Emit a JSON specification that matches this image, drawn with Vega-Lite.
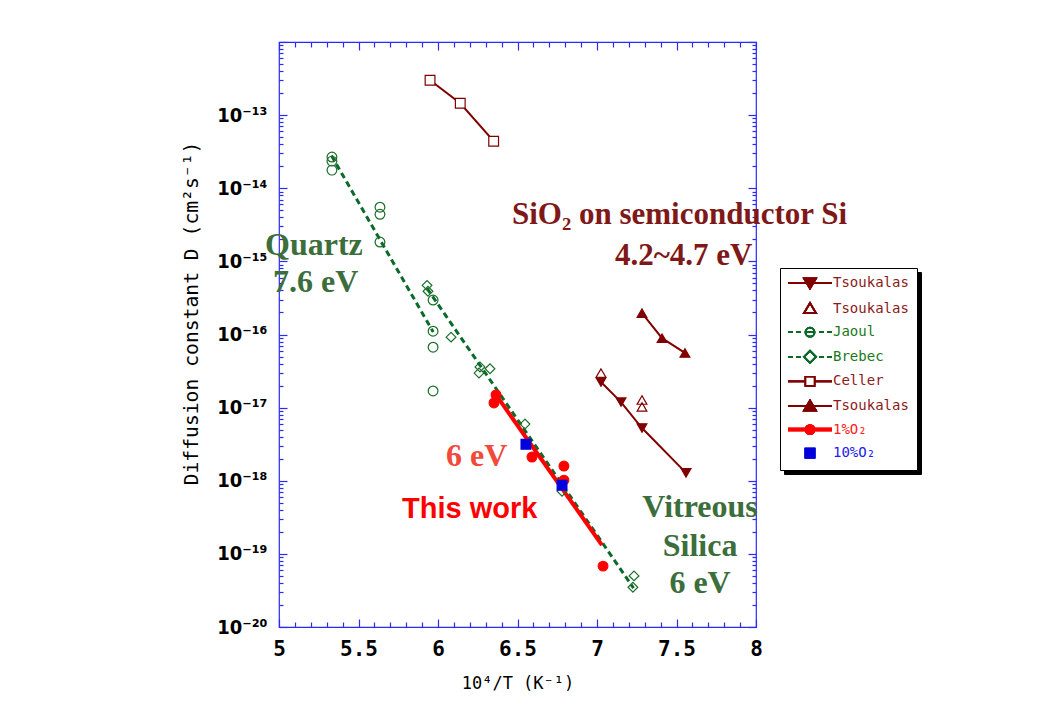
{
  "$schema": "https://vega.github.io/schema/vega-lite/v6.json",
  "width": 477,
  "height": 585,
  "autosize": "none",
  "padding": {"left": 279, "top": 42, "right": 286, "bottom": 92},
  "background": "white",
  "config": {
    "view": {"stroke": "#2a2aff", "strokeWidth": 1.2},
    "axis": {"grid": false, "domain": false, "tickColor": "#2a2aff", "tickWidth": 1.2, "labelOverlap": false, "labelBound": false, "labelFlush": false}
  },
  "datasets": {
    "lines": [
      {"s": "Celler", "x": 5.95, "D": 3.0e-13},
      {"s": "Celler", "x": 6.14, "D": 1.45e-13},
      {"s": "Celler", "x": 6.35, "D": 4.4e-14},
      {"s": "Tsoukalas1", "x": 7.025, "D": 2.24e-17},
      {"s": "Tsoukalas1", "x": 7.151, "D": 1.19e-17},
      {"s": "Tsoukalas1", "x": 7.283, "D": 5.26e-18},
      {"s": "Tsoukalas1", "x": 7.56, "D": 1.28e-18},
      {"s": "Tsoukalas3", "x": 7.283, "D": 1.96e-16},
      {"s": "Tsoukalas3", "x": 7.409, "D": 8.9e-17},
      {"s": "Tsoukalas3", "x": 7.553, "D": 5.6e-17},
      {"s": "Jaoul", "x": 5.33, "D": 2.8e-14},
      {"s": "Jaoul", "x": 5.97, "D": 1.08e-16},
      {"s": "Brebec", "x": 5.93, "D": 4.3e-16},
      {"s": "Brebec", "x": 7.23, "D": 3.4e-20},
      {"s": "1%O₂", "x": 6.365, "D": 1.49e-17},
      {"s": "1%O₂", "x": 7.031, "D": 1.32e-19}
    ],
    "points": [
      {"s": "Celler", "x": 5.95, "D": 3.0e-13},
      {"s": "Celler", "x": 6.14, "D": 1.45e-13},
      {"s": "Celler", "x": 6.35, "D": 4.4e-14},
      {"s": "Jaoul", "x": 5.333, "D": 2.67e-14},
      {"s": "Jaoul", "x": 5.333, "D": 2.35e-14},
      {"s": "Jaoul", "x": 5.333, "D": 1.77e-14},
      {"s": "Jaoul", "x": 5.635, "D": 5.5e-15},
      {"s": "Jaoul", "x": 5.635, "D": 4.4e-15},
      {"s": "Jaoul", "x": 5.635, "D": 1.84e-15},
      {"s": "Jaoul", "x": 5.969, "D": 2.96e-16},
      {"s": "Jaoul", "x": 5.969, "D": 1.11e-16},
      {"s": "Jaoul", "x": 5.969, "D": 6.7e-17},
      {"s": "Jaoul", "x": 5.969, "D": 1.69e-17},
      {"s": "Brebec", "x": 5.931, "D": 4.7e-16},
      {"s": "Brebec", "x": 5.937, "D": 3.9e-16},
      {"s": "Brebec", "x": 6.082, "D": 9.2e-17},
      {"s": "Brebec", "x": 6.264, "D": 3.6e-17},
      {"s": "Brebec", "x": 6.258, "D": 2.97e-17},
      {"s": "Brebec", "x": 6.327, "D": 3.4e-17},
      {"s": "Brebec", "x": 6.547, "D": 5.96e-18},
      {"s": "Brebec", "x": 6.78, "D": 7.2e-19},
      {"s": "Brebec", "x": 7.233, "D": 5.0e-20},
      {"s": "Brebec", "x": 7.226, "D": 3.5e-20},
      {"s": "Tsoukalas1", "x": 7.025, "D": 2.24e-17},
      {"s": "Tsoukalas1", "x": 7.151, "D": 1.19e-17},
      {"s": "Tsoukalas1", "x": 7.283, "D": 5.26e-18},
      {"s": "Tsoukalas1", "x": 7.56, "D": 1.28e-18},
      {"s": "Tsoukalas2", "x": 7.025, "D": 2.97e-17},
      {"s": "Tsoukalas2", "x": 7.283, "D": 1.27e-17},
      {"s": "Tsoukalas2", "x": 7.283, "D": 1.02e-17},
      {"s": "Tsoukalas3", "x": 7.283, "D": 1.96e-16},
      {"s": "Tsoukalas3", "x": 7.409, "D": 8.9e-17},
      {"s": "Tsoukalas3", "x": 7.553, "D": 5.6e-17},
      {"s": "1%O₂", "x": 6.365, "D": 1.49e-17},
      {"s": "1%O₂", "x": 6.352, "D": 1.16e-17},
      {"s": "1%O₂", "x": 6.591, "D": 2.11e-18},
      {"s": "1%O₂", "x": 6.792, "D": 1.59e-18},
      {"s": "1%O₂", "x": 6.792, "D": 1.02e-18},
      {"s": "1%O₂", "x": 7.038, "D": 6.8e-20},
      {"s": "10%O₂", "x": 6.553, "D": 3.15e-18},
      {"s": "10%O₂", "x": 6.78, "D": 8.7e-19}
    ]
  },
  "layer": [
    {
      "data": {"name": "lines"},
      "transform": [{"filter": {"field": "s", "oneOf": ["Jaoul", "Brebec"]}}],
      "mark": {"type": "line", "color": "#0a6a2a", "strokeWidth": 3, "strokeDash": [6, 4]},
      "encoding": {
        "x": {"field": "x", "type": "quantitative", "scale": {"domain": [5, 8], "nice": false, "zero": false},
          "axis": {
            "orient": "bottom",
            "values": [5, 5.5, 6, 6.5, 7, 7.5, 8],
            "format": "~g",
            "tickSize": -8, "labelPadding": 19,
            "labelFont": "DejaVu Sans Mono", "labelFontWeight": "bold", "labelFontSize": 21, "labelColor": "black",
            "title": "10⁴/T  (K⁻¹)", "titleFont": "DejaVu Sans Mono", "titleFontWeight": "normal", "titleFontSize": 17, "titleColor": "black", "titlePadding": 16
          }},
        "y": {"field": "D", "type": "quantitative", "scale": {"type": "log", "domain": [1e-20, 1e-12], "nice": false},
          "axis": {
            "orient": "left",
            "values": [1e-20, 1e-19, 1e-18, 1e-17, 1e-16, 1e-15, 1e-14, 1e-13, 1e-12],
            "labelExpr": "datum.value < 5e-13 ? ['10⁻²⁰','10⁻¹⁹','10⁻¹⁸','10⁻¹⁷','10⁻¹⁶','10⁻¹⁵','10⁻¹⁴','10⁻¹³'][round(log(datum.value)/LN10)+20] : ''",
            "tickSize": -8, "labelPadding": 20,
            "labelFont": "DejaVu Sans Condensed", "labelFontWeight": "bold", "labelFontSize": 20, "labelColor": "black",
            "title": "Diffusion constant D (cm²s⁻¹)", "titleFont": "DejaVu Sans Mono", "titleFontWeight": "normal", "titleFontSize": 19.7, "titleColor": "black",
            "titleX": -88, "titleY": 271, "titleBaseline": "middle", "titleAngle": 270, "titleAlign": "center"
          }},
        "detail": {"field": "s"}
      }
    },
    {
      "data": {"name": "lines"},
      "transform": [{"filter": {"field": "s", "oneOf": ["Celler", "Tsoukalas1", "Tsoukalas3"]}}],
      "mark": {"type": "line", "color": "#800000", "strokeWidth": 2},
      "encoding": {
        "x": {"field": "x", "type": "quantitative", "scale": {"domain": [5, 8], "nice": false, "zero": false},
          "axis": {
            "orient": "bottom",
            "values": [5.1,5.2,5.3,5.4,5.6,5.7,5.8,5.9,6.1,6.2,6.3,6.4,6.6,6.7,6.8,6.9,7.1,7.2,7.3,7.4,7.6,7.7,7.8,7.9],
            "labels": false, "title": null, "tickSize": -5
          }},
        "y": {"field": "D", "type": "quantitative", "scale": {"type": "log", "domain": [1e-20, 1e-12], "nice": false},
          "axis": {
            "orient": "left",
            "values": [2e-20,3e-20,4e-20,5e-20,6e-20,7e-20,8e-20,9e-20,2e-19,3e-19,4e-19,5e-19,6e-19,7e-19,8e-19,9e-19,2e-18,3e-18,4e-18,5e-18,6e-18,7e-18,8e-18,9e-18,2e-17,3e-17,4e-17,5e-17,6e-17,7e-17,8e-17,9e-17,2e-16,3e-16,4e-16,5e-16,6e-16,7e-16,8e-16,9e-16,2e-15,3e-15,4e-15,5e-15,6e-15,7e-15,8e-15,9e-15,2e-14,3e-14,4e-14,5e-14,6e-14,7e-14,8e-14,9e-14,2e-13,3e-13,4e-13,5e-13,6e-13,7e-13,8e-13,9e-13],
            "labels": false, "title": null, "tickSize": -4
          }},
        "detail": {"field": "s"}
      }
    },
    {
      "data": {"name": "lines"},
      "transform": [{"filter": {"field": "s", "equal": "1%O₂"}}],
      "mark": {"type": "line", "color": "#ff0000", "strokeWidth": 4},
      "encoding": {
        "x": {"field": "x", "type": "quantitative", "scale": {"domain": [5, 8], "nice": false, "zero": false},
          "axis": {"orient": "top", "values": [5, 5.5, 6, 6.5, 7, 7.5, 8], "labels": false, "title": null, "tickSize": -8}},
        "y": {"field": "D", "type": "quantitative", "scale": {"type": "log", "domain": [1e-20, 1e-12], "nice": false},
          "axis": {"orient": "right", "values": [1e-20, 1e-19, 1e-18, 1e-17, 1e-16, 1e-15, 1e-14, 1e-13, 1e-12], "labels": false, "title": null, "tickSize": -8}}
      }
    },
    {
      "data": {"name": "points"},
      "mark": {"type": "point", "size": 95, "strokeWidth": 1.2, "opacity": 1},
      "encoding": {
        "x": {"field": "x", "type": "quantitative", "scale": {"domain": [5, 8], "nice": false, "zero": false},
          "axis": {
            "orient": "top",
            "values": [5.1,5.2,5.3,5.4,5.6,5.7,5.8,5.9,6.1,6.2,6.3,6.4,6.6,6.7,6.8,6.9,7.1,7.2,7.3,7.4,7.6,7.7,7.8,7.9],
            "labels": false, "title": null, "tickSize": -5
          }},
        "y": {"field": "D", "type": "quantitative", "scale": {"type": "log", "domain": [1e-20, 1e-12], "nice": false},
          "axis": {
            "orient": "right",
            "values": [2e-20,3e-20,4e-20,5e-20,6e-20,7e-20,8e-20,9e-20,2e-19,3e-19,4e-19,5e-19,6e-19,7e-19,8e-19,9e-19,2e-18,3e-18,4e-18,5e-18,6e-18,7e-18,8e-18,9e-18,2e-17,3e-17,4e-17,5e-17,6e-17,7e-17,8e-17,9e-17,2e-16,3e-16,4e-16,5e-16,6e-16,7e-16,8e-16,9e-16,2e-15,3e-15,4e-15,5e-15,6e-15,7e-15,8e-15,9e-15,2e-14,3e-14,4e-14,5e-14,6e-14,7e-14,8e-14,9e-14,2e-13,3e-13,4e-13,5e-13,6e-13,7e-13,8e-13,9e-13],
            "labels": false, "title": null, "tickSize": -4
          }},
        "shape": {"field": "s", "type": "nominal",
          "scale": {"domain": ["Tsoukalas1","Tsoukalas2","Jaoul","Brebec","Celler","Tsoukalas3","1%O₂","10%O₂"],
                    "range": ["triangle-down","triangle-up","circle","diamond","square","triangle-up","circle","square"]},
          "legend": null},
        "stroke": {"field": "s", "type": "nominal",
          "scale": {"domain": ["Tsoukalas1","Tsoukalas2","Jaoul","Brebec","Celler","Tsoukalas3","1%O₂","10%O₂"],
                    "range": ["#800000","#800000","#1a6e2a","#1a6e2a","#800000","#800000","#ff0000","#0000dd"]},
          "legend": null},
        "fill": {"field": "s", "type": "nominal",
          "scale": {"domain": ["Tsoukalas1","Tsoukalas2","Jaoul","Brebec","Celler","Tsoukalas3","1%O₂","10%O₂"],
                    "range": ["#800000","transparent","transparent","transparent","white","#800000","#ff0000","#0000dd"]},
          "legend": null}
      }
    },
    {
      "data": {"name": "points"},
      "transform": [{"filter": "false"}],
      "mark": {"type": "point", "opacity": 1, "strokeWidth": 1.8},
      "encoding": {
        "x": {"field": "x", "type": "quantitative", "scale": {"domain": [5, 8], "nice": false, "zero": false}, "axis": null},
        "y": {"field": "D", "type": "quantitative", "scale": {"type": "log", "domain": [1e-20, 1e-12], "nice": false}, "axis": null},
        "shape": {"field": "s", "type": "nominal",
          "scale": {"domain": ["Tsoukalas1","Tsoukalas2","Jaoul","Brebec","Celler","Tsoukalas3","1%O₂","10%O₂"],
                    "range": ["M-4.4,0H4.4M-1.2,-0.9H1.2L0,1.1Z","M-1.2,0.9H1.2L0,-1.1Z","M-4.4,0H-3.4M-2.8,0H-1.8M-0.9,0H0.9M1.8,0H2.8M3.4,0H4.4M-0.9,0C-0.9,-0.5 -0.5,-0.9 0,-0.9C0.5,-0.9 0.9,-0.5 0.9,0C0.9,0.5 0.5,0.9 0,0.9C-0.5,0.9 -0.9,0.5 -0.9,0Z","M-4.4,0H-3.4M-2.8,0H-1.8M1.8,0H2.8M3.4,0H4.4M-1.2,0L0,-1.2L1.2,0L0,1.2Z","M-4.4,0H-0.9M0.9,0H4.4M-0.9,-0.9H0.9V0.9H-0.9Z","M-4.4,0H4.4M-1.2,0.9H1.2L0,-1.1Z","M-4.4,-0.17H4.4M-4.4,0.17H4.4M-0.9,0C-0.9,-0.5 -0.5,-0.9 0,-0.9C0.5,-0.9 0.9,-0.5 0.9,0C0.9,0.5 0.5,0.9 0,0.9C-0.5,0.9 -0.9,0.5 -0.9,0Z","M-0.9,-0.9H0.9V0.9H-0.9Z"]},
          "legend": {"orient": "none", "legendX": 505, "legendY": 230, "title": null, "strokeColor": "black", "fillColor": "black", "padding": 8, "symbolSize": 100, "symbolOffset": 15, "symbolStrokeWidth": 1.8, "labelOffset": 16, "rowPadding": 5.6, "labelFont": "DejaVu Sans Mono", "labelFontSize": 14, "labelLimit": 200, "labelColor": "black", "labelExpr": "indexof(datum.label,'Tsoukalas')==0 ? 'Tsoukalas' : datum.label"}},
        "stroke": {"field": "s", "type": "nominal",
          "scale": {"domain": ["Tsoukalas1","Tsoukalas2","Jaoul","Brebec","Celler","Tsoukalas3","1%O₂","10%O₂"],
                    "range": ["#800000","#800000","#0a6a2a","#0a6a2a","#800000","#800000","#ff0000","#0000dd"]},
          "legend": {"orient": "none", "legendX": 505, "legendY": 230, "title": null, "strokeColor": "black", "fillColor": "black", "padding": 8, "symbolSize": 100, "symbolOffset": 15, "symbolStrokeWidth": 1.8, "labelOffset": 16, "rowPadding": 5.6, "labelFont": "DejaVu Sans Mono", "labelFontSize": 14, "labelLimit": 200, "labelColor": "black", "labelExpr": "indexof(datum.label,'Tsoukalas')==0 ? 'Tsoukalas' : datum.label"}},
        "fill": {"field": "s", "type": "nominal",
          "scale": {"domain": ["Tsoukalas1","Tsoukalas2","Jaoul","Brebec","Celler","Tsoukalas3","1%O₂","10%O₂"],
                    "range": ["#800000","transparent","transparent","transparent","white","#800000","#ff0000","#0000dd"]},
          "legend": {"orient": "none", "legendX": 505, "legendY": 230, "title": null, "strokeColor": "black", "fillColor": "black", "padding": 8, "symbolSize": 100, "symbolOffset": 15, "symbolStrokeWidth": 1.8, "labelOffset": 16, "rowPadding": 5.6, "labelFont": "DejaVu Sans Mono", "labelFontSize": 14, "labelLimit": 200, "labelColor": "black", "labelExpr": "indexof(datum.label,'Tsoukalas')==0 ? 'Tsoukalas' : datum.label"}}
      }
    },
    {
      "data": {"name": "points"},
      "transform": [{"filter": "false"}],
      "mark": {"type": "point", "opacity": 1, "strokeWidth": 1.8},
      "encoding": {
        "x": {"field": "x", "type": "quantitative", "scale": {"domain": [5, 8], "nice": false, "zero": false}, "axis": null},
        "y": {"field": "D", "type": "quantitative", "scale": {"type": "log", "domain": [1e-20, 1e-12], "nice": false}, "axis": null},
        "shape": {"field": "s", "type": "nominal",
          "scale": {"domain": ["Tsoukalas1","Tsoukalas2","Jaoul","Brebec","Celler","Tsoukalas3","1%O₂","10%O₂"],
                    "range": ["M-4.4,0H4.4M-1.2,-0.9H1.2L0,1.1Z","M-1.2,0.9H1.2L0,-1.1Z","M-4.4,0H-3.4M-2.8,0H-1.8M-0.9,0H0.9M1.8,0H2.8M3.4,0H4.4M-0.9,0C-0.9,-0.5 -0.5,-0.9 0,-0.9C0.5,-0.9 0.9,-0.5 0.9,0C0.9,0.5 0.5,0.9 0,0.9C-0.5,0.9 -0.9,0.5 -0.9,0Z","M-4.4,0H-3.4M-2.8,0H-1.8M1.8,0H2.8M3.4,0H4.4M-1.2,0L0,-1.2L1.2,0L0,1.2Z","M-4.4,0H-0.9M0.9,0H4.4M-0.9,-0.9H0.9V0.9H-0.9Z","M-4.4,0H4.4M-1.2,0.9H1.2L0,-1.1Z","M-4.4,-0.17H4.4M-4.4,0.17H4.4M-0.9,0C-0.9,-0.5 -0.5,-0.9 0,-0.9C0.5,-0.9 0.9,-0.5 0.9,0C0.9,0.5 0.5,0.9 0,0.9C-0.5,0.9 -0.9,0.5 -0.9,0Z","M-0.9,-0.9H0.9V0.9H-0.9Z"]},
          "legend": {"orient": "none", "legendX": 501, "legendY": 226, "title": null, "strokeColor": "black", "fillColor": "white", "padding": 8, "symbolSize": 100, "symbolOffset": 15, "symbolStrokeWidth": 1.8, "labelOffset": 16, "rowPadding": 5.6, "labelFont": "DejaVu Sans Mono", "labelFontSize": 14, "labelLimit": 200, "labelColor": "#8b1a1a", "labelExpr": "indexof(datum.label,'Tsoukalas')==0 ? 'Tsoukalas' : (datum.label=='Celler' ? 'Celler' : '\u00a0')"}},
        "stroke": {"field": "s", "type": "nominal",
          "scale": {"domain": ["Tsoukalas1","Tsoukalas2","Jaoul","Brebec","Celler","Tsoukalas3","1%O₂","10%O₂"],
                    "range": ["#800000","#800000","#0a6a2a","#0a6a2a","#800000","#800000","#ff0000","#0000dd"]},
          "legend": {"orient": "none", "legendX": 501, "legendY": 226, "title": null, "strokeColor": "black", "fillColor": "white", "padding": 8, "symbolSize": 100, "symbolOffset": 15, "symbolStrokeWidth": 1.8, "labelOffset": 16, "rowPadding": 5.6, "labelFont": "DejaVu Sans Mono", "labelFontSize": 14, "labelLimit": 200, "labelColor": "#8b1a1a", "labelExpr": "indexof(datum.label,'Tsoukalas')==0 ? 'Tsoukalas' : (datum.label=='Celler' ? 'Celler' : '\u00a0')"}},
        "fill": {"field": "s", "type": "nominal",
          "scale": {"domain": ["Tsoukalas1","Tsoukalas2","Jaoul","Brebec","Celler","Tsoukalas3","1%O₂","10%O₂"],
                    "range": ["#800000","transparent","transparent","transparent","white","#800000","#ff0000","#0000dd"]},
          "legend": {"orient": "none", "legendX": 501, "legendY": 226, "title": null, "strokeColor": "black", "fillColor": "white", "padding": 8, "symbolSize": 100, "symbolOffset": 15, "symbolStrokeWidth": 1.8, "labelOffset": 16, "rowPadding": 5.6, "labelFont": "DejaVu Sans Mono", "labelFontSize": 14, "labelLimit": 200, "labelColor": "#8b1a1a", "labelExpr": "indexof(datum.label,'Tsoukalas')==0 ? 'Tsoukalas' : (datum.label=='Celler' ? 'Celler' : '\u00a0')"}}
      }
    },
    {
      "data": {"name": "points"},
      "transform": [{"filter": "false"}],
      "mark": {"type": "point", "opacity": 1, "strokeWidth": 1.8},
      "encoding": {
        "x": {"field": "x", "type": "quantitative", "scale": {"domain": [5, 8], "nice": false, "zero": false}, "axis": null},
        "y": {"field": "D", "type": "quantitative", "scale": {"type": "log", "domain": [1e-20, 1e-12], "nice": false}, "axis": null},
        "shape": {"field": "s", "type": "nominal",
          "scale": {"domain": ["Tsoukalas1","Tsoukalas2","Jaoul","Brebec","Celler","Tsoukalas3","1%O₂","10%O₂"],
                    "range": ["M-4.4,0H4.4M-1.2,-0.9H1.2L0,1.1Z","M-1.2,0.9H1.2L0,-1.1Z","M-4.4,0H-3.4M-2.8,0H-1.8M-0.9,0H0.9M1.8,0H2.8M3.4,0H4.4M-0.9,0C-0.9,-0.5 -0.5,-0.9 0,-0.9C0.5,-0.9 0.9,-0.5 0.9,0C0.9,0.5 0.5,0.9 0,0.9C-0.5,0.9 -0.9,0.5 -0.9,0Z","M-4.4,0H-3.4M-2.8,0H-1.8M1.8,0H2.8M3.4,0H4.4M-1.2,0L0,-1.2L1.2,0L0,1.2Z","M-4.4,0H-0.9M0.9,0H4.4M-0.9,-0.9H0.9V0.9H-0.9Z","M-4.4,0H4.4M-1.2,0.9H1.2L0,-1.1Z","M-4.4,-0.17H4.4M-4.4,0.17H4.4M-0.9,0C-0.9,-0.5 -0.5,-0.9 0,-0.9C0.5,-0.9 0.9,-0.5 0.9,0C0.9,0.5 0.5,0.9 0,0.9C-0.5,0.9 -0.9,0.5 -0.9,0Z","M-0.9,-0.9H0.9V0.9H-0.9Z"]},
          "legend": {"orient": "none", "legendX": 501, "legendY": 226, "title": null, "padding": 8, "symbolSize": 100, "symbolOffset": 15, "symbolStrokeWidth": 1.8, "labelOffset": 16, "rowPadding": 5.6, "labelFont": "DejaVu Sans Mono", "labelFontSize": 14, "labelLimit": 200, "labelColor": "#1a7a1a", "labelExpr": "(datum.label=='Jaoul' || datum.label=='Brebec') ? datum.label : '\u00a0'"}},
        "stroke": {"field": "s", "type": "nominal",
          "scale": {"domain": ["Tsoukalas1","Tsoukalas2","Jaoul","Brebec","Celler","Tsoukalas3","1%O₂","10%O₂"],
                    "range": ["#800000","#800000","#0a6a2a","#0a6a2a","#800000","#800000","#ff0000","#0000dd"]},
          "legend": {"orient": "none", "legendX": 501, "legendY": 226, "title": null, "padding": 8, "symbolSize": 100, "symbolOffset": 15, "symbolStrokeWidth": 1.8, "labelOffset": 16, "rowPadding": 5.6, "labelFont": "DejaVu Sans Mono", "labelFontSize": 14, "labelLimit": 200, "labelColor": "#1a7a1a", "labelExpr": "(datum.label=='Jaoul' || datum.label=='Brebec') ? datum.label : '\u00a0'"}},
        "fill": {"field": "s", "type": "nominal",
          "scale": {"domain": ["Tsoukalas1","Tsoukalas2","Jaoul","Brebec","Celler","Tsoukalas3","1%O₂","10%O₂"],
                    "range": ["#800000","transparent","transparent","transparent","white","#800000","#ff0000","#0000dd"]},
          "legend": {"orient": "none", "legendX": 501, "legendY": 226, "title": null, "padding": 8, "symbolSize": 100, "symbolOffset": 15, "symbolStrokeWidth": 1.8, "labelOffset": 16, "rowPadding": 5.6, "labelFont": "DejaVu Sans Mono", "labelFontSize": 14, "labelLimit": 200, "labelColor": "#1a7a1a", "labelExpr": "(datum.label=='Jaoul' || datum.label=='Brebec') ? datum.label : '\u00a0'"}}
      }
    },
    {
      "data": {"name": "points"},
      "transform": [{"filter": "false"}],
      "mark": {"type": "point", "opacity": 1, "strokeWidth": 1.8},
      "encoding": {
        "x": {"field": "x", "type": "quantitative", "scale": {"domain": [5, 8], "nice": false, "zero": false}, "axis": null},
        "y": {"field": "D", "type": "quantitative", "scale": {"type": "log", "domain": [1e-20, 1e-12], "nice": false}, "axis": null},
        "shape": {"field": "s", "type": "nominal",
          "scale": {"domain": ["Tsoukalas1","Tsoukalas2","Jaoul","Brebec","Celler","Tsoukalas3","1%O₂","10%O₂"],
                    "range": ["M-4.4,0H4.4M-1.2,-0.9H1.2L0,1.1Z","M-1.2,0.9H1.2L0,-1.1Z","M-4.4,0H-3.4M-2.8,0H-1.8M-0.9,0H0.9M1.8,0H2.8M3.4,0H4.4M-0.9,0C-0.9,-0.5 -0.5,-0.9 0,-0.9C0.5,-0.9 0.9,-0.5 0.9,0C0.9,0.5 0.5,0.9 0,0.9C-0.5,0.9 -0.9,0.5 -0.9,0Z","M-4.4,0H-3.4M-2.8,0H-1.8M1.8,0H2.8M3.4,0H4.4M-1.2,0L0,-1.2L1.2,0L0,1.2Z","M-4.4,0H-0.9M0.9,0H4.4M-0.9,-0.9H0.9V0.9H-0.9Z","M-4.4,0H4.4M-1.2,0.9H1.2L0,-1.1Z","M-4.4,-0.17H4.4M-4.4,0.17H4.4M-0.9,0C-0.9,-0.5 -0.5,-0.9 0,-0.9C0.5,-0.9 0.9,-0.5 0.9,0C0.9,0.5 0.5,0.9 0,0.9C-0.5,0.9 -0.9,0.5 -0.9,0Z","M-0.9,-0.9H0.9V0.9H-0.9Z"]},
          "legend": {"orient": "none", "legendX": 501, "legendY": 226, "title": null, "padding": 8, "symbolSize": 100, "symbolOffset": 15, "symbolStrokeWidth": 1.8, "labelOffset": 16, "rowPadding": 5.6, "labelFont": "DejaVu Sans Mono", "labelFontSize": 14, "labelLimit": 200, "labelColor": "#ff2020", "labelExpr": "datum.label=='1%O₂' ? datum.label : '\u00a0'"}},
        "stroke": {"field": "s", "type": "nominal",
          "scale": {"domain": ["Tsoukalas1","Tsoukalas2","Jaoul","Brebec","Celler","Tsoukalas3","1%O₂","10%O₂"],
                    "range": ["#800000","#800000","#0a6a2a","#0a6a2a","#800000","#800000","#ff0000","#0000dd"]},
          "legend": {"orient": "none", "legendX": 501, "legendY": 226, "title": null, "padding": 8, "symbolSize": 100, "symbolOffset": 15, "symbolStrokeWidth": 1.8, "labelOffset": 16, "rowPadding": 5.6, "labelFont": "DejaVu Sans Mono", "labelFontSize": 14, "labelLimit": 200, "labelColor": "#ff2020", "labelExpr": "datum.label=='1%O₂' ? datum.label : '\u00a0'"}},
        "fill": {"field": "s", "type": "nominal",
          "scale": {"domain": ["Tsoukalas1","Tsoukalas2","Jaoul","Brebec","Celler","Tsoukalas3","1%O₂","10%O₂"],
                    "range": ["#800000","transparent","transparent","transparent","white","#800000","#ff0000","#0000dd"]},
          "legend": {"orient": "none", "legendX": 501, "legendY": 226, "title": null, "padding": 8, "symbolSize": 100, "symbolOffset": 15, "symbolStrokeWidth": 1.8, "labelOffset": 16, "rowPadding": 5.6, "labelFont": "DejaVu Sans Mono", "labelFontSize": 14, "labelLimit": 200, "labelColor": "#ff2020", "labelExpr": "datum.label=='1%O₂' ? datum.label : '\u00a0'"}}
      }
    },
    {
      "data": {"name": "points"},
      "transform": [{"filter": "false"}],
      "mark": {"type": "point", "opacity": 1, "strokeWidth": 1.8},
      "encoding": {
        "x": {"field": "x", "type": "quantitative", "scale": {"domain": [5, 8], "nice": false, "zero": false}, "axis": null},
        "y": {"field": "D", "type": "quantitative", "scale": {"type": "log", "domain": [1e-20, 1e-12], "nice": false}, "axis": null},
        "shape": {"field": "s", "type": "nominal",
          "scale": {"domain": ["Tsoukalas1","Tsoukalas2","Jaoul","Brebec","Celler","Tsoukalas3","1%O₂","10%O₂"],
                    "range": ["M-4.4,0H4.4M-1.2,-0.9H1.2L0,1.1Z","M-1.2,0.9H1.2L0,-1.1Z","M-4.4,0H-3.4M-2.8,0H-1.8M-0.9,0H0.9M1.8,0H2.8M3.4,0H4.4M-0.9,0C-0.9,-0.5 -0.5,-0.9 0,-0.9C0.5,-0.9 0.9,-0.5 0.9,0C0.9,0.5 0.5,0.9 0,0.9C-0.5,0.9 -0.9,0.5 -0.9,0Z","M-4.4,0H-3.4M-2.8,0H-1.8M1.8,0H2.8M3.4,0H4.4M-1.2,0L0,-1.2L1.2,0L0,1.2Z","M-4.4,0H-0.9M0.9,0H4.4M-0.9,-0.9H0.9V0.9H-0.9Z","M-4.4,0H4.4M-1.2,0.9H1.2L0,-1.1Z","M-4.4,-0.17H4.4M-4.4,0.17H4.4M-0.9,0C-0.9,-0.5 -0.5,-0.9 0,-0.9C0.5,-0.9 0.9,-0.5 0.9,0C0.9,0.5 0.5,0.9 0,0.9C-0.5,0.9 -0.9,0.5 -0.9,0Z","M-0.9,-0.9H0.9V0.9H-0.9Z"]},
          "legend": {"orient": "none", "legendX": 501, "legendY": 226, "title": null, "padding": 8, "symbolSize": 100, "symbolOffset": 15, "symbolStrokeWidth": 1.8, "labelOffset": 16, "rowPadding": 5.6, "labelFont": "DejaVu Sans Mono", "labelFontSize": 14, "labelLimit": 200, "labelColor": "#2020ee", "labelExpr": "datum.label=='10%O₂' ? datum.label : '\u00a0'"}},
        "stroke": {"field": "s", "type": "nominal",
          "scale": {"domain": ["Tsoukalas1","Tsoukalas2","Jaoul","Brebec","Celler","Tsoukalas3","1%O₂","10%O₂"],
                    "range": ["#800000","#800000","#0a6a2a","#0a6a2a","#800000","#800000","#ff0000","#0000dd"]},
          "legend": {"orient": "none", "legendX": 501, "legendY": 226, "title": null, "padding": 8, "symbolSize": 100, "symbolOffset": 15, "symbolStrokeWidth": 1.8, "labelOffset": 16, "rowPadding": 5.6, "labelFont": "DejaVu Sans Mono", "labelFontSize": 14, "labelLimit": 200, "labelColor": "#2020ee", "labelExpr": "datum.label=='10%O₂' ? datum.label : '\u00a0'"}},
        "fill": {"field": "s", "type": "nominal",
          "scale": {"domain": ["Tsoukalas1","Tsoukalas2","Jaoul","Brebec","Celler","Tsoukalas3","1%O₂","10%O₂"],
                    "range": ["#800000","transparent","transparent","transparent","white","#800000","#ff0000","#0000dd"]},
          "legend": {"orient": "none", "legendX": 501, "legendY": 226, "title": null, "padding": 8, "symbolSize": 100, "symbolOffset": 15, "symbolStrokeWidth": 1.8, "labelOffset": 16, "rowPadding": 5.6, "labelFont": "DejaVu Sans Mono", "labelFontSize": 14, "labelLimit": 200, "labelColor": "#2020ee", "labelExpr": "datum.label=='10%O₂' ? datum.label : '\u00a0'"}}
      }
    },
    {
      "data": {"values": [
        {"x": 6.465, "D": 3.24e-15, "t": "SiO₂ on semiconductor Si"},
        {"x": 7.113, "D": 8.9e-16, "t": "4.2~4.7 eV"}
      ]},
      "mark": {"type": "text", "align": "left", "baseline": "alphabetic", "font": "Liberation Serif", "fontWeight": "bold", "fontSize": 31, "color": "#7f1818"},
      "encoding": {
        "x": {"field": "x", "type": "quantitative", "scale": {"domain": [5, 8], "nice": false, "zero": false}, "axis": null},
        "y": {"field": "D", "type": "quantitative", "scale": {"type": "log", "domain": [1e-20, 1e-12], "nice": false}, "axis": null},
        "text": {"field": "t"}
      }
    },
    {
      "data": {"values": [
        {"x": 4.912, "D": 1.22e-15, "t": "Quartz"},
        {"x": 4.962, "D": 3.8e-16, "t": "7.6 eV"}
      ]},
      "mark": {"type": "text", "align": "left", "baseline": "alphabetic", "font": "Liberation Serif", "fontWeight": "bold", "fontSize": 32, "color": "#3c6e3c"},
      "encoding": {
        "x": {"field": "x", "type": "quantitative", "scale": {"domain": [5, 8], "nice": false, "zero": false}, "axis": null},
        "y": {"field": "D", "type": "quantitative", "scale": {"type": "log", "domain": [1e-20, 1e-12], "nice": false}, "axis": null},
        "text": {"field": "t"}
      }
    },
    {
      "data": {"values": [
        {"x": 7.648, "D": 3.19e-19, "t": "Vitreous"},
        {"x": 7.648, "D": 9.35e-20, "t": "Silica"},
        {"x": 7.648, "D": 2.92e-20, "t": "6 eV"}
      ]},
      "mark": {"type": "text", "align": "center", "baseline": "alphabetic", "font": "Liberation Serif", "fontWeight": "bold", "fontSize": 32, "color": "#3c6e3c"},
      "encoding": {
        "x": {"field": "x", "type": "quantitative", "scale": {"domain": [5, 8], "nice": false, "zero": false}, "axis": null},
        "y": {"field": "D", "type": "quantitative", "scale": {"type": "log", "domain": [1e-20, 1e-12], "nice": false}, "axis": null},
        "text": {"field": "t"}
      }
    },
    {
      "data": {"values": [
        {"x": 6.05, "D": 1.58e-18, "t": "6 eV"}
      ]},
      "mark": {"type": "text", "align": "left", "baseline": "alphabetic", "font": "Liberation Serif", "fontWeight": "bold", "fontSize": 32, "color": "#f24a3a"},
      "encoding": {
        "x": {"field": "x", "type": "quantitative", "scale": {"domain": [5, 8], "nice": false, "zero": false}, "axis": null},
        "y": {"field": "D", "type": "quantitative", "scale": {"type": "log", "domain": [1e-20, 1e-12], "nice": false}, "axis": null},
        "text": {"field": "t"}
      }
    },
    {
      "data": {"values": [
        {"x": 5.774, "D": 3.09e-19, "t": "This work"}
      ]},
      "mark": {"type": "text", "align": "left", "baseline": "alphabetic", "font": "Liberation Sans", "fontWeight": "bold", "fontSize": 29, "color": "#ff0000"},
      "encoding": {
        "x": {"field": "x", "type": "quantitative", "scale": {"domain": [5, 8], "nice": false, "zero": false}, "axis": null},
        "y": {"field": "D", "type": "quantitative", "scale": {"type": "log", "domain": [1e-20, 1e-12], "nice": false}, "axis": null},
        "text": {"field": "t"}
      }
    }
  ],
  "resolve": {
    "axis": {"x": "independent", "y": "independent"},
    "scale": {"shape": "independent", "stroke": "independent", "fill": "independent"}
  }
}
